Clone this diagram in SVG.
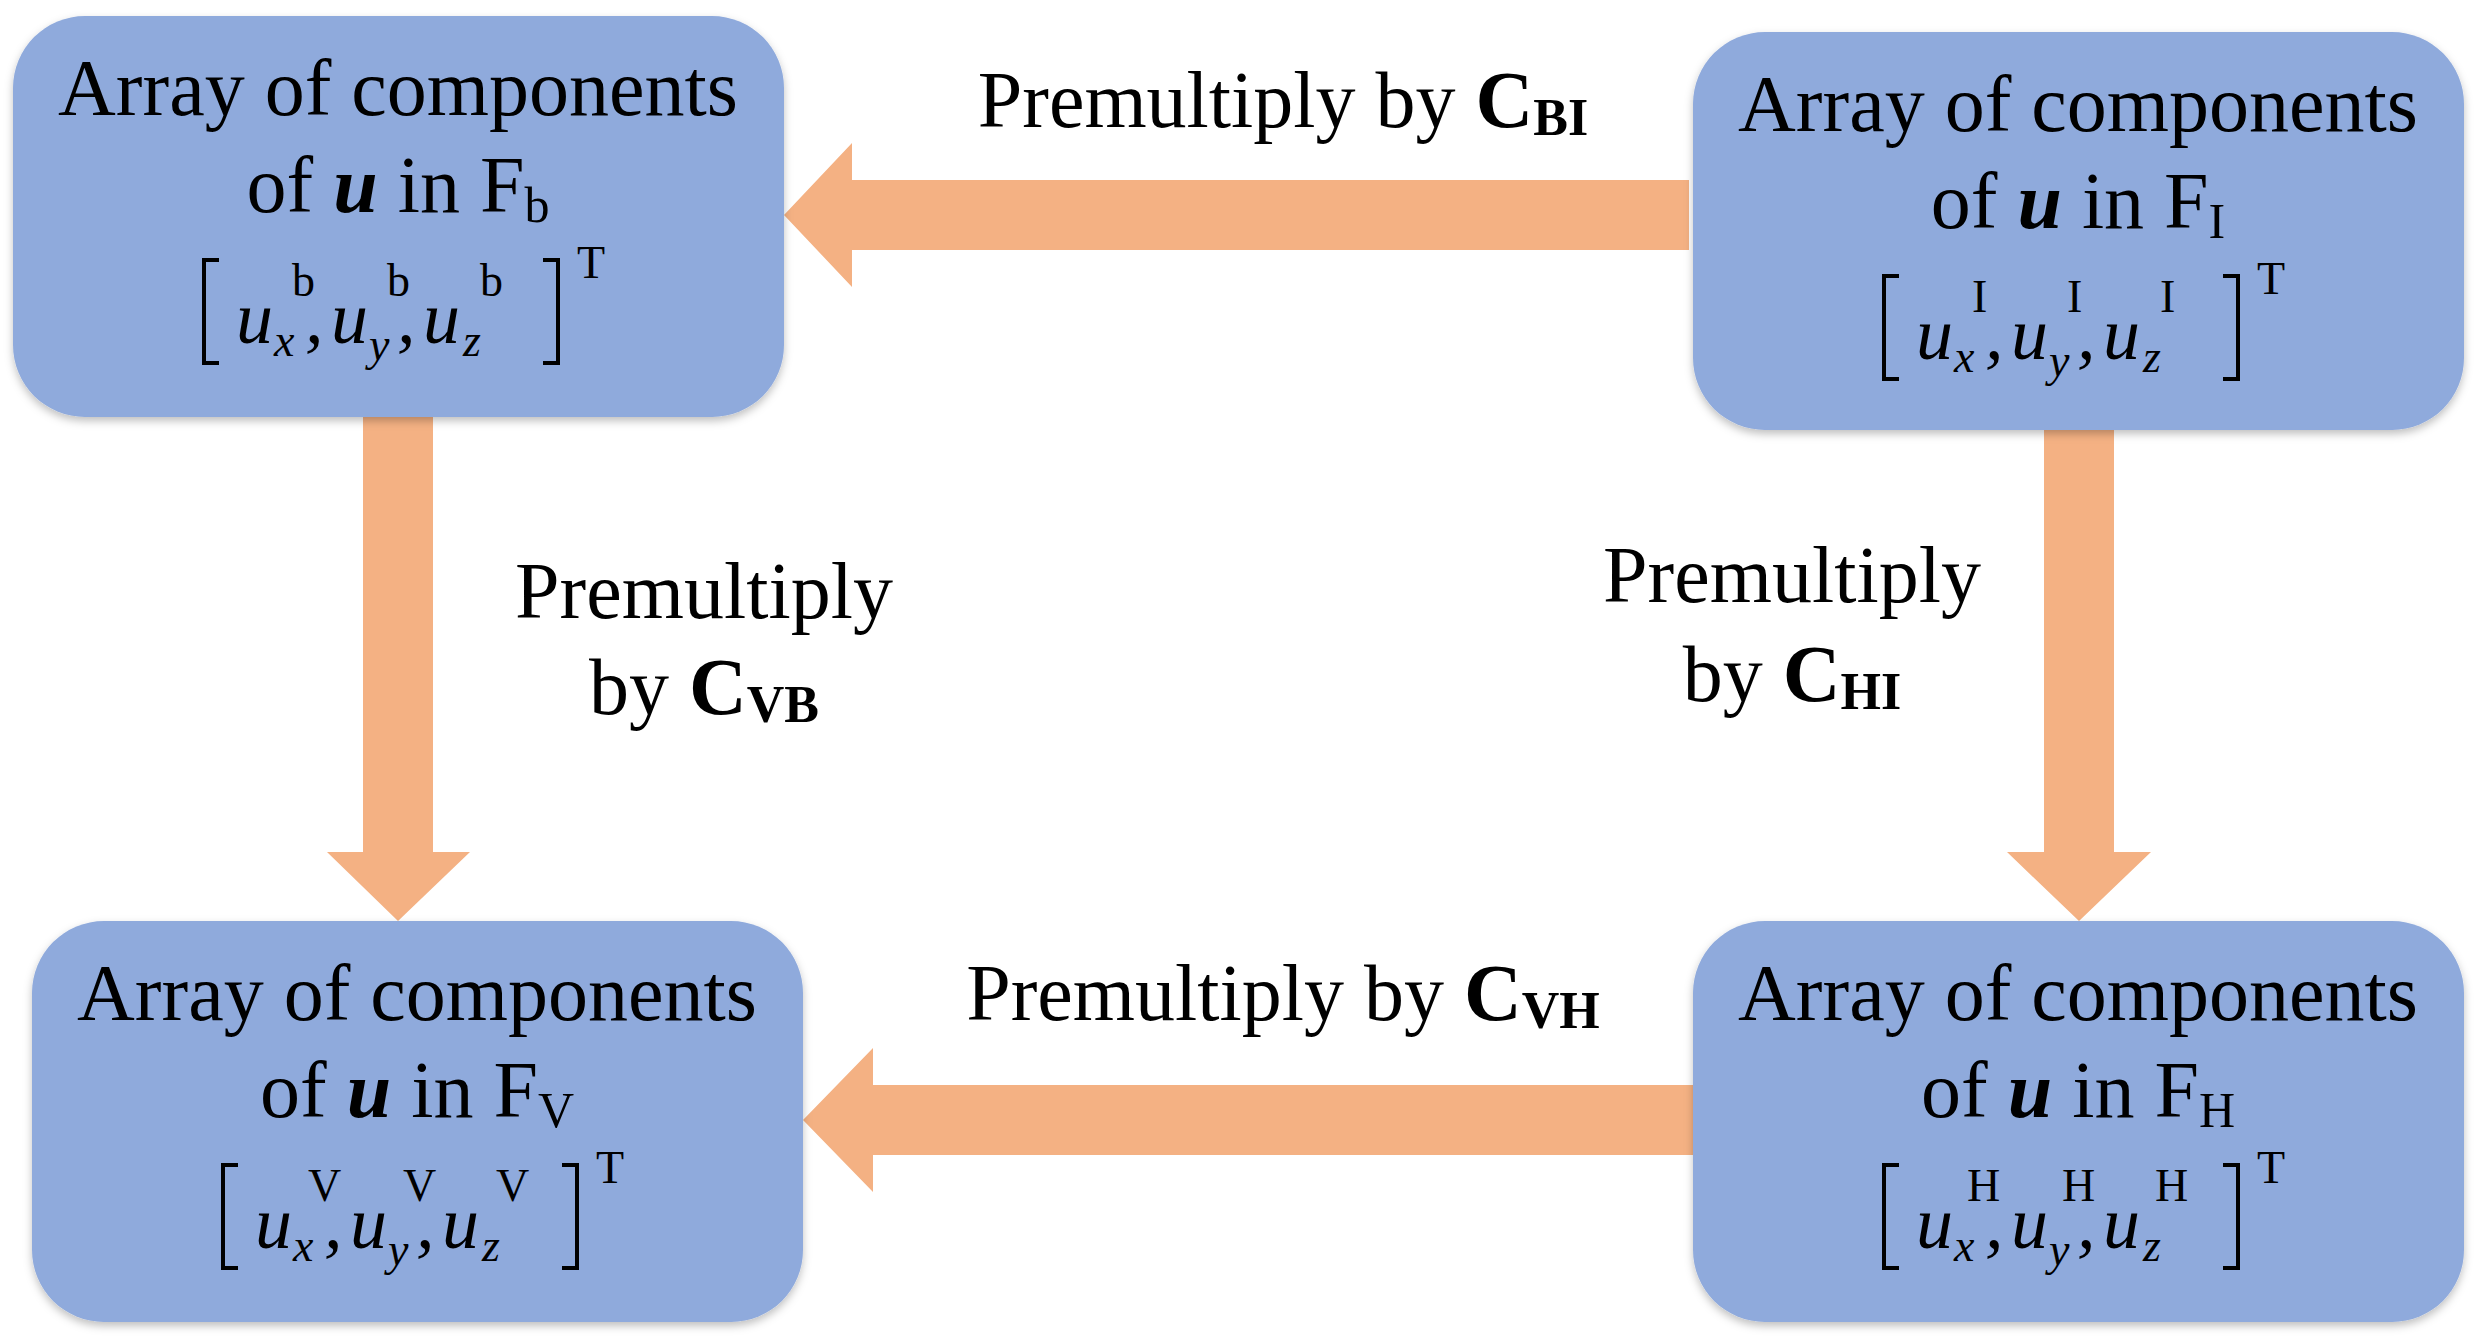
<svg xmlns="http://www.w3.org/2000/svg" width="2481" height="1342" viewBox="0 0 2481 1342">
<style>
.box{fill:#8faadc;filter:url(#sh)}
.t{font-family:"Liberation Serif",serif;font-size:80px;fill:#000}
.m{font-family:"Liberation Serif",serif;font-size:74px;font-style:italic}
.s{font-family:"Liberation Serif",serif;font-size:46px;font-style:italic}
.sup{font-family:"Liberation Serif",serif;font-size:46px}
.br{fill:none;stroke:#000;stroke-width:4}
.arr{fill:#f4b183}
</style>
<defs>
<filter id="sh" x="-5%" y="-5%" width="110%" height="115%"><feDropShadow dx="0" dy="4" stdDeviation="4" flood-color="#000" flood-opacity="0.25"/></filter>
<g id="mat">
<path class="br" d="M206 244 h-15 v103 h15"/>
<path class="br" d="M530 244 h15 v103 h-15"/>
<text class="m" x="223" y="327">u</text>
<text class="s" x="261" y="340">x</text>
<text class="m" x="292" y="327">,</text>
<text class="m" x="318" y="327">u</text>
<text class="s" x="356" y="344">y</text>
<text class="m" x="384" y="327">,</text>
<text class="m" x="410" y="327">u</text>
<text class="s" x="450" y="340">z</text>
<text class="sup" x="564" y="262">T</text>
</g>
</defs>
<g id="connectors">
<polygon class="arr" points="1689,180 852,180 852,143 784,215 852,287 852,250 1689,250"/>
<polygon class="arr" points="363,417 433,417 433,852 470,852 398,921 327,852 363,852"/>
<polygon class="arr" points="2044,430 2114,430 2114,852 2151,852 2079,921 2007,852 2044,852"/>
<polygon class="arr" points="1693,1085 873,1085 873,1048 803,1120 873,1192 873,1155 1693,1155"/>
</g>
<g id="labels">
<text class="t" x="1283" y="127" text-anchor="middle">Premultiply by <tspan font-weight="bold">C</tspan><tspan font-weight="bold" font-size="52px" dy="8">BI</tspan></text>
<text class="t" x="704" y="618" text-anchor="middle">Premultiply</text>
<text class="t" x="704" y="714" text-anchor="middle">by <tspan font-weight="bold">C</tspan><tspan font-weight="bold" font-size="52px" dy="8">VB</tspan></text>
<text class="t" x="1792" y="602" text-anchor="middle">Premultiply</text>
<text class="t" x="1792" y="701" text-anchor="middle">by <tspan font-weight="bold">C</tspan><tspan font-weight="bold" font-size="52px" dy="8">HI</tspan></text>
<text class="t" x="1283" y="1020" text-anchor="middle">Premultiply by <tspan font-weight="bold">C</tspan><tspan font-weight="bold" font-size="52px" dy="8">VH</tspan></text>
</g>
<g id="nodeB" transform="translate(13,16)">
<rect class="box" width="771" height="401" rx="72"/>
<text class="t" x="385" y="99" text-anchor="middle">Array of components</text>
<text class="t" x="385" y="196" text-anchor="middle">of <tspan font-weight="bold" font-style="italic">u</tspan> in F<tspan font-size="50px" dy="10">b</tspan></text>
<use href="#mat"/>
<text class="sup" x="279" y="280">b</text><text class="sup" x="374" y="280">b</text><text class="sup" x="467" y="280">b</text>
</g>
<g id="nodeI" transform="translate(1693,32)">
<rect class="box" width="771" height="398" rx="72"/>
<text class="t" x="385" y="99" text-anchor="middle">Array of components</text>
<text class="t" x="385" y="196" text-anchor="middle">of <tspan font-weight="bold" font-style="italic">u</tspan> in F<tspan font-size="50px" dy="10">I</tspan></text>
<use href="#mat"/>
<text class="sup" x="279" y="280">I</text><text class="sup" x="374" y="280">I</text><text class="sup" x="467" y="280">I</text>
</g>
<g id="nodeV" transform="translate(32,921)">
<rect class="box" width="771" height="401" rx="72"/>
<text class="t" x="385" y="99" text-anchor="middle">Array of components</text>
<text class="t" x="385" y="196" text-anchor="middle">of <tspan font-weight="bold" font-style="italic">u</tspan> in F<tspan font-size="50px" dy="10">V</tspan></text>
<use href="#mat"/>
<text class="sup" x="276" y="280">V</text><text class="sup" x="371" y="280">V</text><text class="sup" x="464" y="280">V</text>
</g>
<g id="nodeH" transform="translate(1693,921)">
<rect class="box" width="771" height="401" rx="72"/>
<text class="t" x="385" y="99" text-anchor="middle">Array of components</text>
<text class="t" x="385" y="196" text-anchor="middle">of <tspan font-weight="bold" font-style="italic">u</tspan> in F<tspan font-size="50px" dy="10">H</tspan></text>
<use href="#mat"/>
<text class="sup" x="274" y="280">H</text><text class="sup" x="369" y="280">H</text><text class="sup" x="462" y="280">H</text>
</g>
</svg>
